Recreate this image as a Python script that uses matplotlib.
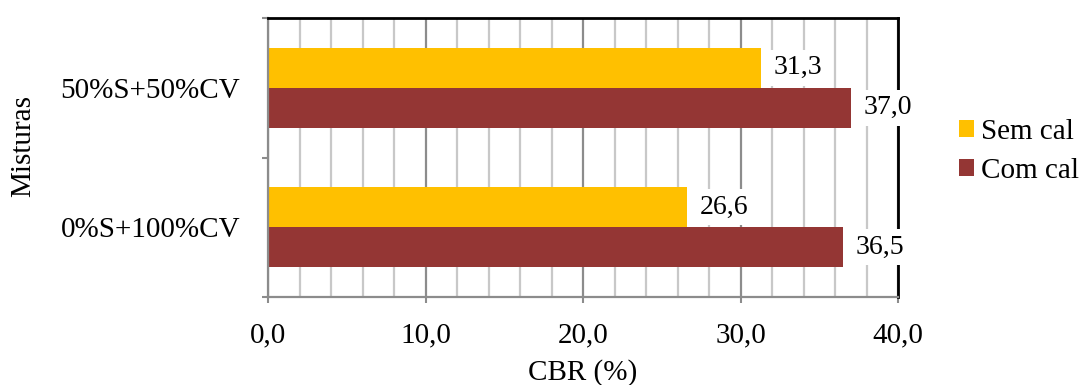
import matplotlib
matplotlib.use("Agg")
import matplotlib.pyplot as plt
from matplotlib.ticker import MultipleLocator, FixedLocator, NullFormatter

plt.rcParams['font.family'] = ['Liberation Serif', 'DejaVu Serif']

categories = ["0%S+100%CV", "50%S+50%CV"]
series_names = ["Sem cal", "Com cal"]
sem_cal = [26.6, 31.3]
com_cal = [36.5, 37.0]
x_ticks = [0, 10, 20, 30, 40]

yellow = "#FFC000"
darkred = "#943634"
grid_major = "#8c8c8c"
grid_minor = "#c8c8c8"
fs = 21

fig = plt.figure(figsize=(10.82, 3.85), dpi=100)
ax = fig.add_axes([268 / 1082, 88 / 385, 630 / 1082, 279 / 385])

bar_h = 0.287
pos = list(range(len(categories)))
b1 = ax.barh([p + bar_h / 2 for p in pos], sem_cal, height=bar_h, color=yellow,
             label=series_names[0], zorder=3)
b2 = ax.barh([p - bar_h / 2 for p in pos], com_cal, height=bar_h, color=darkred,
             label=series_names[1], zorder=3)

# value labels on white boxes, to the right of each bar
for bars, vals in ((b1, sem_cal), (b2, com_cal)):
    for rect, v in zip(bars, vals):
        y = rect.get_y() + rect.get_height() / 2
        ax.annotate(f"{v:.1f}".replace(".", ","), xy=(v, y), xytext=(9, 0),
                    textcoords="offset points", ha="left", va="center",
                    fontsize=fs - 1, zorder=5,
                    bbox=dict(boxstyle="square,pad=0.2", fc="white", ec="none"))

ax.set_xlim(0, 40)
ax.set_ylim(-0.5, 1.5)

# x axis: majors every 10, minor gridlines every 2
ax.xaxis.set_major_locator(FixedLocator(x_ticks))
ax.set_xticklabels([f"{t:.1f}".replace(".", ",") for t in x_ticks], fontsize=fs)
ax.xaxis.set_minor_locator(MultipleLocator(2))
ax.grid(True, axis="x", which="major", color=grid_major, lw=1.6, zorder=0)
ax.grid(True, axis="x", which="minor", color=grid_minor, lw=1.6, zorder=0)
ax.tick_params(axis="x", which="major", direction="out", length=4, width=1.5,
               color=grid_major, pad=14)
ax.tick_params(axis="x", which="minor", length=0)

# y axis: ticks on category boundaries, labels centred on categories
ax.yaxis.set_major_locator(FixedLocator([-0.5, 0.5, 1.5]))
ax.yaxis.set_major_formatter(NullFormatter())
ax.yaxis.set_minor_locator(FixedLocator(pos))
ax.set_yticklabels(categories, minor=True, fontsize=fs)
ax.tick_params(axis="y", which="major", direction="out", length=4, width=1.5,
               color=grid_major)
ax.tick_params(axis="y", which="minor", length=0, pad=20)

for side in ("left", "bottom"):
    ax.spines[side].set_color(grid_major)
    ax.spines[side].set_linewidth(1.6)
for side in ("top", "right"):
    ax.spines[side].set_color("black")
    ax.spines[side].set_linewidth(2)
for s in ax.spines.values():
    s.set_zorder(4)

fig.text(583 / 1082, 1 - 373 / 385, "CBR (%)", ha="center", va="center", fontsize=fs)
fig.text(23 / 1082, 1 - 146 / 385, "Misturas", ha="center", va="center",
         rotation=90, fontsize=fs)

fig.legend(handles=[b1, b2], labels=series_names, loc="center left",
           bbox_to_anchor=(959 / 1082, 1 - 151.5 / 385), frameon=False,
           fontsize=fs, handlelength=0.52, handleheight=0.52, handletextpad=0.25,
           labelspacing=0.46, borderpad=0, borderaxespad=0)

fig.savefig("out.png", dpi=100)
